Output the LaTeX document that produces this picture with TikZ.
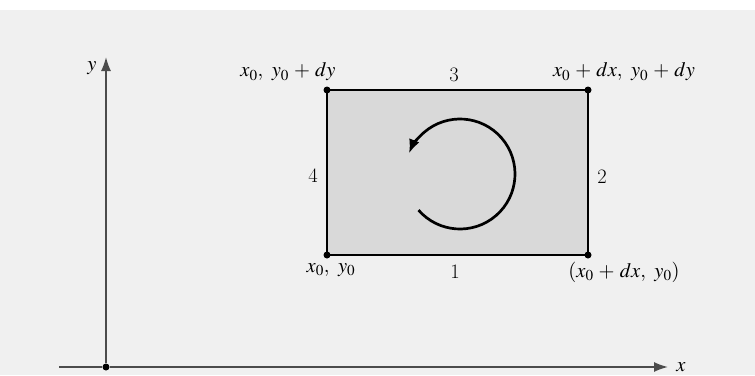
\documentclass[tikz,border=0pt]{standalone}
\usepackage{mathptmx}
\usetikzlibrary{arrows.meta,calc}
\tikzset{
  lbl/.style={font=\fontsize{20.5}{24}\selectfont, inner sep=0pt},
  axis/.style={draw=black!70, line width=1.6pt},
  edge/.style={draw=black, line width=2.5pt},
  corner/.style={circle, fill=black, inner sep=0pt, minimum size=7pt},
}
\newcommand{\pls}{\,+\,}
\begin{document}
\begin{tikzpicture}[x=1pt,y=-1pt]
\useasboundingbox (0,0) rectangle (755,375);
\fill[black!6] (0,10) rectangle (755,375);
% axes
\node[corner] (o) at (106,367) {};
\coordinate (xs) at (59,367);
\coordinate (xe) at (668,367);
\coordinate (ye) at (106,57);
\draw[axis] (xs) -- (o);
\draw[axis,-{Latex[length=14pt,width=10pt]}] (o) -- (xe);
\draw[axis,-{Latex[length=14pt,width=10pt]}] (o) -- (ye);
\node[lbl] (xl) at (681,367) {$x$};
\node[lbl] (yl) at (92,68) {$y$};
% rectangle
\fill[black!15] (327,90) rectangle (588,255);
\node[corner] (a) at (327,255) {};
\node[corner] (b) at (588,255) {};
\node[corner] (c) at (588,90) {};
\node[corner] (d) at (327,90) {};
\draw[edge] (a.center) -- (b.center) -- (c.center) -- (d.center) -- cycle;
% circulation arrow
\coordinate (cc) at (460,174);
\draw[line width=2.7pt,-{Latex[length=14pt,width=11pt]}] ($(cc)+(139:55)$) arc[start angle=139, end angle=-158, radius=55];
% labels
\node[lbl] (l1) at (455,272) {1};
\node[lbl] (l2) at (602,177) {2};
\node[lbl] (l3) at (454,75) {3};
\node[lbl] (l4) at (313,176) {4};
\node[lbl] (la) at (331,270) {$x_0,\ y_0$};
\node[lbl] (lb) at (624,272) {$(x_0 \pls dx,\ y_0)$};
\node[lbl] (lc) at (624,72) {$x_0 \pls dx,\ y_0 \pls dy$};
\node[lbl] (ld) at (288,72) {$x_0,\ y_0 \pls dy$};
\end{tikzpicture}
\end{document}
